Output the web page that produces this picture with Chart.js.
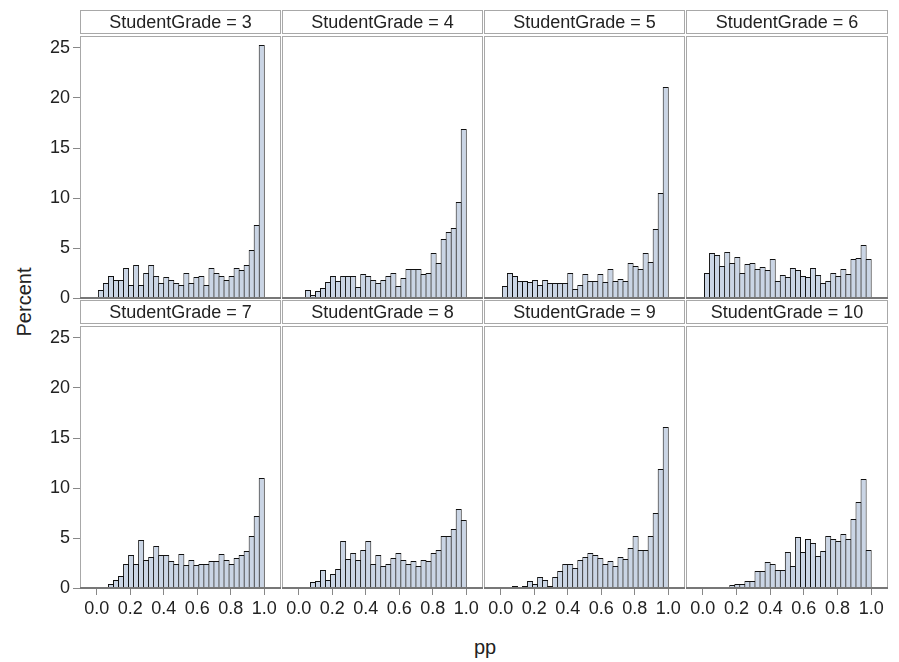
<!DOCTYPE html>
<html>
<head>
<meta charset="utf-8">
<script src="https://cdn.jsdelivr.net/npm/chart.js@4.4.1/dist/chart.umd.min.js"></script>
<style>
  body { margin: 0; background: #fff; width: 899px; height: 662px; overflow: hidden; position: relative;
         font-family: "Liberation Sans", Arial, sans-serif; }
  canvas { position: absolute; }
  .axis-title { position: absolute; color: #222; font-size: 20px; white-space: nowrap; }
  #ytitle { left: 24px; top: 302px; transform: translate(-50%, -50%) rotate(-90deg); }
  #xtitle { left: 485px; top: 647px; transform: translate(-50%, -50%); }
</style>
</head>
<body>
<div class="axis-title" id="ytitle">Percent</div>
<div class="axis-title" id="xtitle">pp</div>
<script>
// histogram bin midpoints (pp), bin width 0.03
const binMid = [0.025, 0.055, 0.085, 0.115, 0.145, 0.175, 0.205, 0.235, 0.265, 0.295, 0.325,
                0.355, 0.385, 0.415, 0.445, 0.475, 0.505, 0.535, 0.565, 0.595, 0.625, 0.655,
                0.685, 0.715, 0.745, 0.775, 0.805, 0.835, 0.865, 0.895, 0.925, 0.955, 0.985];

const grades = [3, 4, 5, 6, 7, 8, 9, 10];

// percent per bin, one array per StudentGrade
const pct3  = [0.8, 1.5, 2.2, 1.8, 1.8, 3.0, 1.3, 3.3, 1.3, 2.5, 3.3, 2.2, 1.5, 2.1, 1.8, 1.5, 1.3,
               2.5, 1.5, 2.1, 2.2, 1.3, 3.0, 2.5, 2.2, 1.8, 2.2, 3.0, 2.8, 3.3, 4.8, 7.3, 25.3];
const pct4  = [0, 0.8, 0.3, 0.7, 1.0, 1.6, 2.2, 1.7, 2.2, 2.2, 2.2, 1.1, 2.4, 2.2, 1.8, 1.5, 1.8,
               2.2, 2.5, 1.2, 2.0, 2.9, 2.9, 2.9, 2.4, 2.5, 4.5, 3.5, 5.9, 6.6, 7.0, 9.6, 16.9];
const pct5  = [1.2, 2.5, 2.2, 1.7, 1.7, 1.6, 1.8, 1.3, 1.8, 1.5, 1.5, 1.5, 1.5, 2.5, 0.9, 1.3, 2.4,
               1.7, 1.7, 2.4, 1.6, 2.9, 1.7, 1.9, 1.7, 3.5, 3.2, 2.9, 4.5, 3.6, 6.9, 10.5, 21.1];
const pct6  = [2.5, 4.5, 4.3, 3.2, 4.6, 3.5, 4.1, 2.5, 3.4, 3.5, 2.9, 3.1, 2.8, 3.9, 1.7, 2.3, 2.1,
               3.0, 2.8, 2.2, 2.1, 3.0, 2.3, 1.5, 1.7, 2.5, 2.2, 2.9, 2.4, 3.9, 4.0, 5.3, 3.9];
const pct7  = [0, 0, 0.4, 0.8, 1.2, 2.4, 3.3, 2.4, 4.8, 2.8, 3.1, 4.2, 3.3, 3.3, 2.7, 2.4, 3.4,
               2.3, 2.8, 2.3, 2.4, 2.4, 2.7, 2.7, 3.4, 2.8, 2.4, 3.0, 3.3, 3.7, 5.2, 7.2, 11.0];
const pct8  = [0, 0, 0.6, 0.7, 1.8, 0.8, 1.4, 1.9, 4.7, 2.9, 3.5, 2.8, 3.8, 4.7, 2.4, 3.3, 2.2,
               2.4, 3.0, 3.5, 2.8, 2.4, 2.7, 2.2, 2.8, 2.7, 3.5, 3.8, 5.2, 5.2, 5.9, 7.9, 6.8];
const pct9  = [0, 0.05, 0.2, 0.1, 0.2, 0.7, 0.4, 1.1, 0.8, 0.2, 1.1, 1.7, 2.4, 2.4, 2.0, 2.8, 3.1,
               3.5, 3.3, 3.0, 2.4, 2.7, 2.2, 3.1, 2.9, 4.0, 5.2, 3.8, 3.8, 5.2, 7.5, 11.9, 16.1];
const pct10 = [0, 0, 0, 0, 0, 0.3, 0.4, 0.4, 0.7, 0.7, 1.7, 1.7, 2.6, 2.4, 1.8, 1.8, 3.6,
               2.2, 5.1, 3.6, 4.9, 4.5, 3.2, 3.7, 5.2, 4.9, 4.7, 5.4, 4.9, 6.9, 8.6, 10.9, 3.8];

const yTicks = [0, 5, 10, 15, 20, 25];
const xTicks = [0.0, 0.2, 0.4, 0.6, 0.8, 1.0];

const series = [pct3, pct4, pct5, pct6, pct7, pct8, pct9, pct10];

// 패널 배치 (픽셀)
const panelLeft = [80, 282, 484, 686];
const panelWidth = [201, 201, 201, 202];
const rowTop = [10, 300];
const headerH = 26, plotH = 262, axisW = 80, axisH = 40, padB = 18;

const fontFamily = '"Liberation Sans", Arial, sans-serif';
const textColor = '#222';

// header strip + panel frame + dark baseline
const panelFrame = {
    id: 'panelFrame',
    afterDatasetsDraw(chart) {
        const { ctx, chartArea: a } = chart;
        ctx.save();
        ctx.strokeStyle = '#a8a8a8';
        ctx.lineWidth = 1;
        ctx.strokeRect(a.left + 0.5, 0.5, a.right - a.left - 1, a.top - 3);
        ctx.strokeRect(a.left + 0.5, a.top + 0.5, a.right - a.left - 1, a.bottom - a.top - 1);
        ctx.strokeStyle = '#777';
        ctx.lineWidth = 2;
        ctx.beginPath();
        ctx.moveTo(a.left, a.bottom);
        ctx.lineTo(a.right, a.bottom);
        ctx.stroke();
        ctx.restore();
    }
};

function makePanel(idx) {
    const row = Math.floor(idx / 4), col = idx % 4;
    const hasY = col === 0, hasX = row === 1;
    const w = panelWidth[col] + (hasY ? axisW : 0);
    const h = headerH + plotH + (hasX ? axisH : padB);

    const cv = document.createElement('canvas');
    cv.width = w;
    cv.height = h;
    cv.style.width = w + 'px';
    cv.style.height = h + 'px';
    cv.style.left = (panelLeft[col] - (hasY ? axisW : 0)) + 'px';
    cv.style.top = rowTop[row] + 'px';
    document.body.appendChild(cv);

    return new Chart(cv, {
        type: 'bar',
        data: {
            datasets: [{
                data: binMid.map((x, i) => ({ x: x, y: series[idx][i] })),
                backgroundColor: '#cad5e5',
                borderColor: '#111',
                borderWidth: 1,
                barPercentage: 1.2,
                categoryPercentage: 1
            }]
        },
        options: {
            responsive: false,
            animation: false,
            devicePixelRatio: 1,
            layout: { padding: { top: 0, left: 0, right: 0, bottom: hasX ? 0 : padB } },
            plugins: {
                legend: { display: false },
                tooltip: { enabled: false },
                title: {
                    display: true,
                    text: 'StudentGrade = ' + grades[idx],
                    fullSize: false,
                    color: textColor,
                    font: { family: fontFamily, size: 18, weight: 'normal', lineHeight: 1 },
                    padding: { top: 4, bottom: 4 }
                }
            },
            scales: {
                x: {
                    type: 'linear',
                    min: -0.1,
                    max: 1.1,
                    offset: false,
                    display: hasX,
                    afterBuildTicks: s => { s.ticks = xTicks.map(v => ({ value: v })); },
                    afterFit: s => { if (hasX) s.height = axisH; },
                    grid: { drawOnChartArea: false, offset: false, tickLength: 7, color: '#888' },
                    border: { display: false },
                    ticks: {
                        color: textColor, padding: 3, maxRotation: 0, autoSkip: false,
                        font: { family: fontFamily, size: 18 },
                        callback: v => Number(v).toFixed(1)
                    }
                },
                y: {
                    type: 'linear',
                    min: 0,
                    max: 26.2,
                    display: hasY,
                    afterBuildTicks: s => { s.ticks = yTicks.map(v => ({ value: v })); },
                    afterFit: s => { if (hasY) s.width = axisW; },
                    grid: { drawOnChartArea: false, tickLength: 7, color: '#888' },
                    border: { display: false },
                    ticks: {
                        color: textColor, padding: 3, autoSkip: false,
                        font: { family: fontFamily, size: 18 },
                        callback: v => String(v)
                    }
                }
            }
        },
        plugins: [panelFrame]
    });
}

grades.forEach((g, i) => makePanel(i));
</script>
</body>
</html>
